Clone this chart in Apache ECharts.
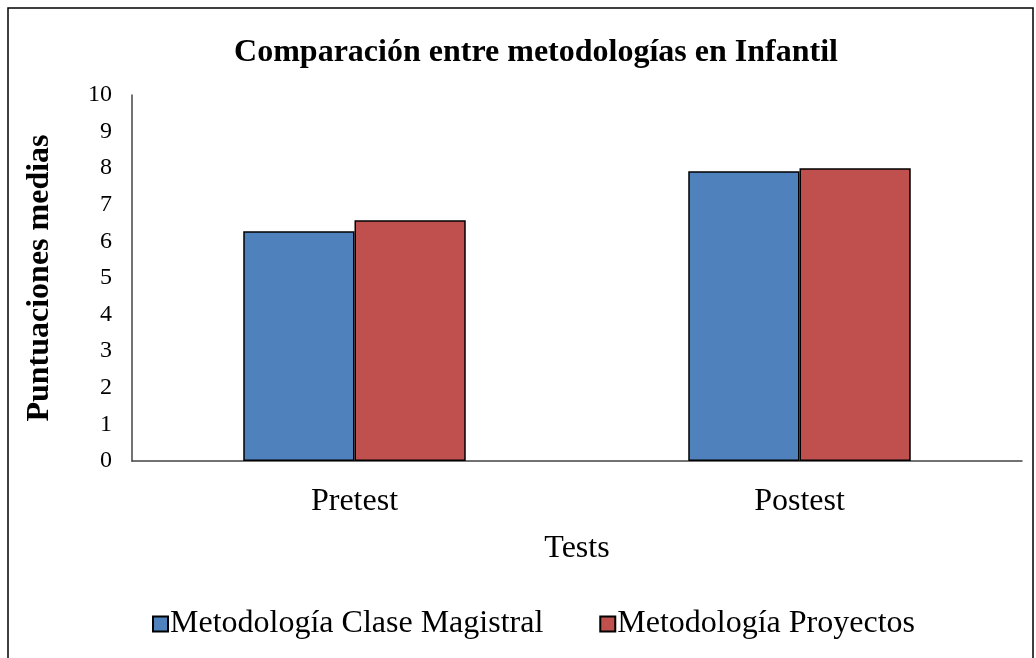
<!DOCTYPE html>
<html>
<head>
<meta charset="utf-8">
<script src="https://cdn.jsdelivr.net/npm/echarts@6/dist/echarts.min.js"></script>
<style>
  html, body { margin: 0; padding: 0; background: #fff; }
  #main { width: 1036px; height: 658px; }
</style>
</head>
<body>
<div id="main"></div>
<script>
// datos del gráfico
var categorias = ['Pretest', 'Postest'];
var claseMagistral = [6.28, 7.92];
var proyectos = [6.58, 8.0];
var nombresSeries = ['Metodología Clase Magistral', 'Metodología Proyectos'];

var fuente = "'Liberation Serif', 'Times New Roman', serif";

var myChart = echarts.init(document.getElementById('main'));

var option = {
    backgroundColor: '#fff',
    animation: false,
    title: {
        text: 'Comparación entre metodologías en Infantil',
        left: 531,
        top: 32,
        textAlign: 'center',
        textStyle: { fontFamily: fuente, fontSize: 32, fontWeight: 'bold', color: '#000' }
    },
    graphic: [{
        type: 'rect',
        shape: { x: 8, y: 8, width: 1025, height: 700 },
        style: { fill: 'none', stroke: '#000', lineWidth: 1.5 },
        silent: true
    }],
    legend: {
        data: nombresSeries,
        left: 147,
        top: 603,
        icon: 'rect',
        itemWidth: 15,
        itemHeight: 15,
        itemGap: 56,
        textStyle: { fontFamily: fuente, fontSize: 32, color: '#000', padding: [0, 0, 0, -3] }
    },
    grid: { left: 132, right: 14, top: 95, bottom: 197, containLabel: false },
    xAxis: {
        type: 'category',
        data: categorias,
        name: 'Tests',
        nameLocation: 'middle',
        nameGap: 72,
        nameTextStyle: { fontFamily: fuente, fontSize: 32, color: '#000' },
        axisLine: { lineStyle: { color: '#444', width: 1.5 } },
        axisTick: { show: false },
        axisLabel: { margin: 25, fontFamily: fuente, fontSize: 32, color: '#000' }
    },
    yAxis: {
        type: 'value',
        min: 0,
        max: 10,
        interval: 1,
        name: 'Puntuaciones medias',
        nameLocation: 'middle',
        nameGap: 76,
        nameTextStyle: { fontFamily: fuente, fontSize: 32, fontWeight: 'bold', color: '#000' },
        axisLine: { show: true, lineStyle: { color: '#444', width: 1.5 } },
        axisTick: { show: false },
        splitLine: { show: false },
        axisLabel: { margin: 20, fontFamily: fuente, fontSize: 24, color: '#000' }
    },
    series: [{
        name: nombresSeries[0],
        type: 'bar',
        data: claseMagistral,
        barGap: '0%',
        barCategoryGap: '50%',
        itemStyle: { color: '#4F81BD', borderColor: '#000', borderWidth: 1.5 }
    }, {
        name: nombresSeries[1],
        type: 'bar',
        data: proyectos,
        barGap: '0%',
        barCategoryGap: '50%',
        itemStyle: { color: '#C0504D', borderColor: '#000', borderWidth: 1.5 }
    }]
};

myChart.setOption(option);
</script>
</body>
</html>
